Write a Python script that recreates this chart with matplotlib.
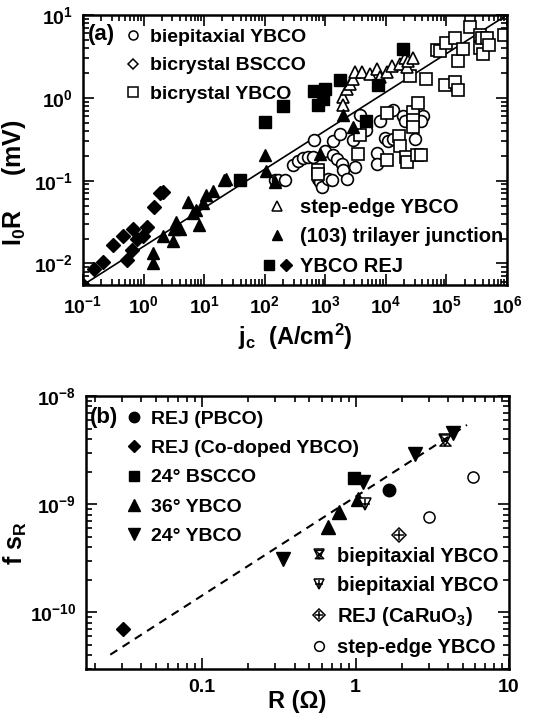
import numpy as np
import matplotlib.pyplot as plt
from matplotlib.lines import Line2D
from matplotlib.legend_handler import HandlerTuple
from matplotlib.path import Path
from matplotlib.ticker import LogLocator, FuncFormatter, NullFormatter, FixedLocator

plt.rcParams['font.family'] = ['Liberation Sans', 'DejaVu Sans']
plt.rcParams['font.weight'] = 'bold'
plt.rcParams['axes.labelweight'] = 'bold'
plt.rcParams['mathtext.fontset'] = 'custom'
plt.rcParams['mathtext.rm'] = 'Liberation Sans:bold'
plt.rcParams['mathtext.it'] = 'Liberation Sans:bold'
plt.rcParams['mathtext.bf'] = 'Liberation Sans:bold'

# ---------------- panel (a) data: jc (A/cm2), IcRn (mV) ----------------
bie_j = [148, 168, 216, 297, 359, 434, 525, 635, 652, 769, 819, 880, 991, 1120, 1280,
         1330, 1360, 1540, 1750, 1860, 1990, 2250, 2830, 3100, 3740, 4700, 7230, 7230,
         8010, 9680, 11000, 13000, 13300, 19500, 20700, 28400, 30300, 40500, 37600]
bie_v = [0.101, 0.103, 0.101, 0.155, 0.175, 0.186, 0.191, 0.195, 0.307, 0.106, 0.097,
         0.0845, 0.23, 0.106, 0.103, 0.206, 0.302, 0.183, 0.362, 0.16, 0.133, 0.106,
         0.307, 0.146, 0.62, 0.41, 0.213, 0.16, 0.52, 0.33, 0.30, 0.32, 0.71, 0.60,
         0.52, 0.68, 0.32, 0.60, 0.52]

bicy_j = [769, 769, 3520, 3740, 10300, 10300, 16700, 17100, 21500, 22600, 25100, 27700,
          27700, 28400, 34400, 32300, 37600, 46000, 69000, 78300, 94800, 98500, 139000,
          139000, 157000, 157000, 185000, 245000, 358000, 358000, 382000, 407000,
          474000, 511000, 893000]
bicy_v = [0.133, 0.12, 0.21, 0.36, 0.178, 0.65, 0.345, 0.263, 0.191, 0.167, 1.82, 0.68,
          0.54, 0.45, 0.86, 0.206, 0.206, 1.69, 3.77, 3.66, 1.44, 4.6, 5.27, 1.57, 2.79,
          1.23, 3.84, 7.11, 5.77, 4.01, 5.27, 3.35, 5.27, 4.4, 5.77]

step_j = [1990, 1990, 2250, 2560, 2830, 3100, 3990, 5480, 7060, 8010, 10300, 12500,
          17100, 20700, 22600, 23500, 28400]
step_v = [1.03, 0.82, 1.27, 1.48, 1.69, 2.03, 2.07, 1.94, 2.22, 1.77, 2.03, 2.44, 2.55,
          3.06, 2.33, 2.79, 3.06]

tri_j = [1.45, 1.45, 2.07, 3.02, 3.18, 3.43, 3.99, 5.48, 6.47, 7.34, 8.34, 9.7, 10.7,
         14.2, 21.3, 23, 101, 104, 148, 818, 1990, 2900]
tri_v = [0.0135, 0.0100, 0.0212, 0.0189, 0.0264, 0.0317, 0.026, 0.0547, 0.0409, 0.0448,
         0.029, 0.0537, 0.0673, 0.0759, 0.101, 0.106, 0.206, 0.131, 0.097, 0.21, 0.62, 0.44]

rejs_j = [39, 101, 198, 652, 769, 906, 991, 1750, 4700, 7510, 18960]
rejs_v = [0.103, 0.506, 0.804, 1.2, 0.82, 0.98, 1.29, 1.66, 0.52, 1.41, 3.9]

rejd_j = [0.1, 0.154, 0.211, 0.309, 0.464, 0.526, 0.637, 0.678, 0.789, 0.966, 1.12,
          1.51, 1.87, 2.12]
rejd_v = [0.0055, 0.0087, 0.0105, 0.0165, 0.0216, 0.011, 0.0144, 0.0264, 0.0198, 0.0212,
          0.0272, 0.0477, 0.0705, 0.0738]

fit_a_j = [0.1, 1e6]
fit_a_v = [0.0055, 10]
xticks_a = [0.1, 1, 10, 100, 1e3, 1e4, 1e5, 1e6]
yticks_a = [0.01, 0.1, 1, 10]

# ---------------- panel (b) data: R (Ohm), f s_R ----------------
pbco_R, pbco_f = [1.66], [1.34e-9]
codop_R, codop_f = [0.0305], [7.1e-11]
bscco_R, bscco_f = [0.98], [1.73e-9]
y36_R, y36_f = [0.665, 0.78, 1.04], [6.15e-10, 8.45e-10, 1.11e-9]
y24_R, y24_f = [0.338, 1.12, 2.45, 4.33], [3.1e-10, 1.6e-9, 2.88e-9, 4.57e-9]
biep1_R, biep1_f = [3.85], [3.95e-9]
biep2_R, biep2_f = [1.15], [1.0e-9]
caru_R, caru_f = [1.93], [5.2e-10]
stepb_R, stepb_f = [3.03, 5.85], [7.6e-10, 1.77e-9]
fit_b_R = [0.0252, 5.32]
fit_b_f = [4.07e-11, 5.4e-9]
xticks_b = [0.1, 1, 10]
yticks_b = [1e-10, 1e-9, 1e-8]

# hourglass marker for the biepitaxial symbol
hourglass = Path([(-1, 1), (1, 1), (-1, -1), (1, -1), (-1, 1)],
                 [Path.MOVETO, Path.LINETO, Path.LINETO, Path.LINETO, Path.CLOSEPOLY])

fig = plt.figure(figsize=(5.37, 7.19), dpi=100)
ax1 = fig.add_axes([83 / 537, 1 - 285 / 719, 424 / 537, 270 / 719])
ax2 = fig.add_axes([86 / 537, 1 - 669 / 719, 423 / 537, 273 / 719])

def style_axes(ax):
    for s in ax.spines.values():
        s.set_linewidth(1.8)
    ax.tick_params(which='both', direction='in', top=True, right=True, width=1.2,
                   labelsize=14, pad=7)
    ax.tick_params(which='major', length=8)
    ax.tick_params(which='minor', length=4)

pow10 = FuncFormatter(lambda v, p: r'$10^{%d}$' % round(np.log10(v)))

# ---------------- panel (a) ----------------
ax1.set_xscale('log')
ax1.set_yscale('log')
ax1.plot(fit_a_j, fit_a_v, color='black', lw=1.2)
ms = 8.5
mew = 1.2
ax1.plot(bie_j, bie_v, 'o', ms=ms, mfc='white', mec='black', mew=mew)
ax1.plot(bicy_j, bicy_v, 's', ms=ms, mfc='white', mec='black', mew=mew)
ax1.plot(step_j, step_v, '^', ms=ms, mfc='white', mec='black', mew=mew)
ax1.plot(tri_j, tri_v, '^', ms=9, color='black')
ax1.plot(rejs_j, rejs_v, 's', ms=8, color='black')
ax1.plot(rejd_j, rejd_v, 'D', ms=7.5, color='black')
ax1.set_xlim(0.1, 1e6)
ax1.set_ylim(0.0055, 10)
ax1.xaxis.set_major_locator(FixedLocator(xticks_a))
ax1.xaxis.set_minor_locator(LogLocator(base=10, subs=np.arange(2, 10), numticks=20))
ax1.xaxis.set_major_formatter(pow10)
ax1.xaxis.set_minor_formatter(NullFormatter())
ax1.yaxis.set_major_locator(FixedLocator(yticks_a))
ax1.yaxis.set_major_formatter(pow10)
ax1.yaxis.set_minor_formatter(NullFormatter())
style_axes(ax1)
ax1.set_xlabel(r'j$_c$  (A/cm$^2$)', fontsize=17, labelpad=4)
ax1.set_ylabel(r'I$_0$R     (mV)', fontsize=18)
ax1.yaxis.set_label_coords(-0.13, 0.38)
ax1.text(0.012, 0.926, '(a)', transform=ax1.transAxes, fontsize=16, ha='left', va='center')

lm = 6.5
h_a1 = [Line2D([], [], ls='', marker='o', ms=lm, mfc='white', mec='black', mew=1.1),
        Line2D([], [], ls='', marker='D', ms=lm - 1, mfc='white', mec='black', mew=1.1),
        Line2D([], [], ls='', marker='s', ms=lm, mfc='white', mec='black', mew=1.1)]
leg1 = ax1.legend(h_a1, ['biepitaxial YBCO', 'bicrystal BSCCO', 'bicrystal YBCO'],
                  loc='upper left', bbox_to_anchor=(0.10, 0.95), frameon=False,
                  fontsize=14, handlelength=0.8, handletextpad=0.45, labelspacing=0.55,
                  borderpad=0, borderaxespad=0)
ax1.add_artist(leg1)
h_a2 = [Line2D([], [], ls='', marker='^', ms=lm, mfc='white', mec='black', mew=1.1),
        Line2D([], [], ls='', marker='^', ms=lm + 0.5, color='black'),
        (Line2D([], [], ls='', marker='s', ms=lm, color='black'),
         Line2D([], [], ls='', marker='D', ms=lm - 0.5, color='black'))]
ax1.legend(h_a2, ['step-edge YBCO', '(103) trilayer junction', 'YBCO REJ'],
           loc='lower right', bbox_to_anchor=(0.99, 0.035), frameon=False,
           fontsize=14.5, handlelength=1.4, handletextpad=0.4, labelspacing=0.5,
           borderpad=0, borderaxespad=0,
           handler_map={tuple: HandlerTuple(ndivide=None, pad=0.3)})

# ---------------- panel (b) ----------------
ax2.set_xscale('log')
ax2.set_yscale('log')
ax2.plot(fit_b_R, fit_b_f, color='black', lw=1.5, ls=(0, (4, 3)))
bm = 9
ax2.plot(pbco_R, pbco_f, 'o', ms=bm, color='black')
ax2.plot(codop_R, codop_f, 'D', ms=bm - 1.5, color='black')
ax2.plot(bscco_R, bscco_f, 's', ms=bm - 0.5, color='black')
ax2.plot(y36_R, y36_f, '^', ms=bm + 0.5, color='black')
ax2.plot(y24_R, y24_f, 'v', ms=bm + 0.5, color='black')
ax2.plot(biep1_R, biep1_f, marker=hourglass, ls='', ms=bm - 1, mfc='none', mec='black', mew=1.1)
ax2.plot(biep1_R, biep1_f, 'v', ms=bm, mfc='none', mec='black', mew=1.1)
ax2.plot(biep2_R, biep2_f, 'v', ms=bm, mfc='white', mec='black', mew=1.1)
ax2.plot(biep2_R, biep2_f, '+', ms=bm - 2, mec='black', mew=1.1)
ax2.plot(caru_R, caru_f, 'D', ms=bm - 2, mfc='white', mec='black', mew=1.1)
ax2.plot(caru_R, caru_f, '+', ms=bm - 2, mec='black', mew=1.1)
ax2.plot(stepb_R, stepb_f, 'o', ms=bm - 1, mfc='white', mec='black', mew=1.1)
ax2.set_xlim(0.0175, 10)
ax2.set_ylim(3e-11, 1e-8)
ax2.xaxis.set_major_locator(FixedLocator(xticks_b))
ax2.xaxis.set_minor_locator(LogLocator(base=10, subs=np.arange(2, 10), numticks=10))
ax2.xaxis.set_major_formatter(FuncFormatter(lambda v, p: '%g' % v))
ax2.xaxis.set_minor_formatter(NullFormatter())
ax2.yaxis.set_major_locator(FixedLocator(yticks_b))
ax2.yaxis.set_major_formatter(pow10)
ax2.yaxis.set_minor_formatter(NullFormatter())
style_axes(ax2)
ax2.set_xlabel('R (\u03a9)', fontsize=17, labelpad=-4)
ax2.set_ylabel(r'f s$_R$', fontsize=18)
ax2.yaxis.set_label_coords(-0.135, 0.46)
ax2.text(0.01, 0.922, '(b)', transform=ax2.transAxes, fontsize=16, ha='left', va='center')

lb = 7.5
h_b1 = [Line2D([], [], ls='', marker='o', ms=lb, color='black'),
        Line2D([], [], ls='', marker='D', ms=lb - 1, color='black'),
        Line2D([], [], ls='', marker='s', ms=lb - 0.5, color='black'),
        Line2D([], [], ls='', marker='^', ms=lb + 0.5, color='black'),
        Line2D([], [], ls='', marker='v', ms=lb + 0.5, color='black')]
leg2 = ax2.legend(h_b1, ['REJ (PBCO)', 'REJ (Co-doped YBCO)', '24\u00b0 BSCCO', '36\u00b0 YBCO',
                         '24\u00b0 YBCO'],
                  loc='upper left', bbox_to_anchor=(0.095, 0.948), frameon=False,
                  fontsize=14, handlelength=0.8, handletextpad=0.5, labelspacing=0.6,
                  borderpad=0, borderaxespad=0)
ax2.add_artist(leg2)
h_b2 = [(Line2D([], [], ls='', marker=hourglass, ms=lb - 1.5, mfc='none', mec='black', mew=1.1),
         Line2D([], [], ls='', marker='v', ms=lb, mfc='none', mec='black', mew=1.1)),
        (Line2D([], [], ls='', marker='v', ms=lb, mfc='white', mec='black', mew=1.1),
         Line2D([], [], ls='', marker='+', ms=lb - 2, mec='black', mew=1.1)),
        (Line2D([], [], ls='', marker='D', ms=lb - 1.5, mfc='white', mec='black', mew=1.1),
         Line2D([], [], ls='', marker='+', ms=lb - 1.5, mec='black', mew=1.1)),
        Line2D([], [], ls='', marker='o', ms=lb - 0.5, mfc='white', mec='black', mew=1.1)]
ax2.legend(h_b2, ['biepitaxial YBCO', 'biepitaxial YBCO', r'REJ (CaRuO$_3$)', 'step-edge YBCO'],
           loc='lower right', bbox_to_anchor=(0.975, 0.045), frameon=False,
           fontsize=14.5, handlelength=0.8, handletextpad=0.5, labelspacing=0.5,
           borderpad=0, borderaxespad=0,
           handler_map={tuple: HandlerTuple(ndivide=1)})

fig.savefig('out.png', dpi=100)
